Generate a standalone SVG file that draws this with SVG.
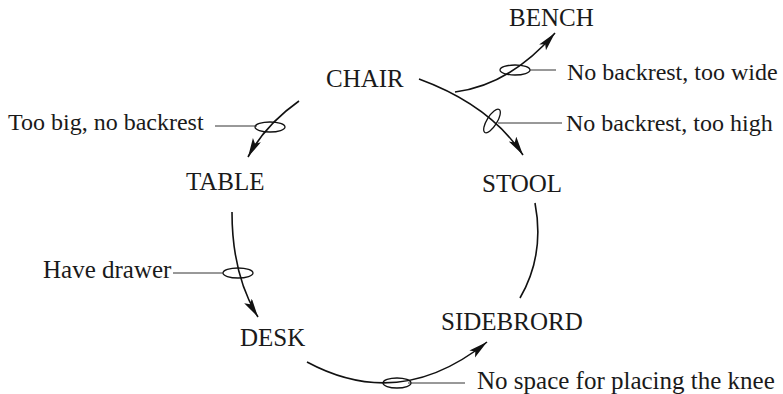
<svg xmlns="http://www.w3.org/2000/svg" width="783" height="394" viewBox="0 0 783 394">
<defs>
<marker id="arr" markerUnits="userSpaceOnUse" markerWidth="22" markerHeight="12" refX="19" refY="4.5" orient="auto">
<path d="M0,0 L19,4.5 L0,9 L4,4.5 Z" fill="#111"/>
</marker>
<style>
text{font-family:"Liberation Serif","Times New Roman",serif;font-size:25px;fill:#1a1a1a}
.s{font-size:24px}
.c{fill:none;stroke:#111;stroke-width:1.6}
.l{fill:none;stroke:#333;stroke-width:1}
.e{fill:none;stroke:#111;stroke-width:1.3}
</style>
</defs>
<rect width="783" height="394" fill="#fff"/>
<g id="chair"><text x="326" y="87">CHAIR</text></g>
<g id="bench"><text x="509" y="26">BENCH</text></g>
<g id="table"><text x="186" y="190">TABLE</text></g>
<g id="stool"><text x="482" y="192">STOOL</text></g>
<g id="desk"><text x="240" y="346">DESK</text></g>
<g id="sidebrord"><text x="441" y="330">SIDEBRORD</text></g>
<g id="connectors">
<path class="c" d="M299,101 Q265,125 248,157" marker-end="url(#arr)"/>
<path class="c" d="M419,79 Q490,105 523,155" marker-end="url(#arr)"/>
<path class="c" d="M455,92 Q510,85 555,33" marker-end="url(#arr)"/>
<path class="c" d="M232,212 Q232,275 258,317" marker-end="url(#arr)"/>
<path class="c" d="M307,362 Q400,412 487,342" marker-end="url(#arr)"/>
<path class="c" d="M535,203 Q545,255 520,298"/>
</g>
<g id="label-wide">
<ellipse class="e" cx="515" cy="70" rx="15" ry="5"/>
<line class="l" x1="530" y1="70" x2="556" y2="70"/>
<text class="s" x="567" y="80">No backrest, too wide</text>
</g>
<g id="label-high">
<ellipse class="e" cx="0" cy="0" rx="13.5" ry="5" transform="translate(492,121) rotate(-58)"/>
<line class="l" x1="498" y1="123" x2="562" y2="123"/>
<text class="s" x="566" y="131">No backrest, too high</text>
</g>
<g id="label-big">
<ellipse class="e" cx="270" cy="127" rx="15" ry="5"/>
<line class="l" x1="215" y1="126" x2="257" y2="126"/>
<text class="s" x="8" y="130">Too big, no backrest</text>
</g>
<g id="label-drawer">
<ellipse class="e" cx="238" cy="273" rx="15" ry="5"/>
<line class="l" x1="173" y1="273" x2="223" y2="273"/>
<text x="43" y="278">Have drawer</text>
</g>
<g id="label-knee">
<ellipse class="e" cx="397" cy="383" rx="14" ry="5"/>
<line class="l" x1="408" y1="383" x2="465" y2="383"/>
<text x="477" y="389">No space for placing the knee</text>
</g>
</svg>
